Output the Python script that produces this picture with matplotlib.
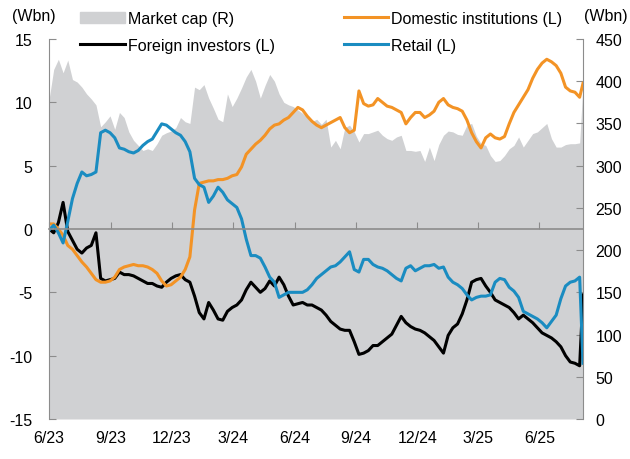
import pandas as pd
import matplotlib
matplotlib.use("Agg")
import matplotlib.pyplot as plt
import matplotlib.dates as mdates
from matplotlib.patches import Patch

plt.rcParams['font.family'] = ['Liberation Sans', 'DejaVu Sans']
plt.rcParams['axes.unicode_minus'] = False

# weekly observations from 1 Jun 2023, last point is 5 Aug 2025
dates = list(pd.date_range('2023-06-01', periods=114, freq='7D')) + [pd.Timestamp('2025-08-05')]

foreign = [0.0, -0.3, 0.5, 2.1, -0.2, -0.9, -1.6, -1.9, -1.5, -1.3,
           -0.3, -3.9, -4.1, -4.0, -3.9, -3.4, -3.6, -3.6, -3.7, -3.9,
           -4.1, -4.3, -4.3, -4.5, -4.6, -4.2, -3.9, -3.7, -3.6, -4.0,
           -4.2, -5.3, -6.6, -7.1, -5.8, -6.4, -7.1, -7.2, -6.5, -6.2,
           -6.0, -5.6, -4.8, -4.2, -4.6, -5.0, -4.7, -4.1, -4.5, -3.8,
           -4.4, -5.3, -6.0, -5.9, -5.8, -6.0, -6.0, -6.2, -6.4, -6.8,
           -7.3, -7.6, -7.9, -8.0, -8.0, -8.9, -9.9, -9.8, -9.6, -9.2,
           -9.2, -8.9, -8.6, -8.3, -7.6, -6.9, -7.4, -7.7, -7.9, -8.0,
           -8.2, -8.5, -8.8, -9.3, -9.8, -8.4, -7.8, -7.5, -6.7, -5.6,
           -4.2, -4.0, -3.9, -4.5, -5.0, -5.6, -5.8, -6.0, -6.2, -6.6,
           -7.1, -6.8, -7.1, -7.4, -7.8, -8.2, -8.4, -8.6, -8.9, -9.3,
           -10.0, -10.5, -10.6, -10.8, -5.2]

domestic = [0.4, 0.4, 0.0, -0.5, -1.3, -1.6, -2.1, -2.6, -3.0, -3.5,
            -4.0, -4.2, -4.2, -4.1, -3.8, -3.2, -3.0, -2.9, -2.8, -2.9,
            -2.9, -3.0, -3.2, -3.5, -4.1, -4.5, -4.4, -4.1, -3.8, -3.2,
            -2.2, 1.5, 3.6, 3.7, 3.8, 3.8, 3.9, 3.9, 4.0, 4.2,
            4.3, 4.9, 5.9, 6.3, 6.7, 7.0, 7.4, 7.9, 8.2, 8.3,
            8.6, 8.8, 9.2, 9.6, 9.4, 8.9, 8.5, 8.2, 8.0, 8.2,
            8.4, 8.6, 8.8, 8.0, 7.6, 7.8, 10.9, 9.9, 9.7, 9.8,
            10.3, 10.0, 9.7, 9.6, 9.4, 9.2, 8.3, 8.8, 9.2, 9.2,
            8.8, 9.0, 9.3, 10.0, 10.3, 9.8, 9.6, 9.5, 9.3, 8.6,
            7.6, 6.9, 6.4, 7.2, 7.5, 7.2, 7.1, 7.3, 8.3, 9.2,
            9.8, 10.4, 11.0, 11.9, 12.6, 13.1, 13.4, 13.2, 12.9, 12.3,
            11.2, 10.9, 10.8, 10.4, 11.5]

retail = [-0.1, 0.3, -0.3, -1.1, 0.6, 2.4, 3.6, 4.5, 4.2, 4.3,
          4.5, 7.6, 7.8, 7.6, 7.2, 6.4, 6.3, 6.1, 6.0, 6.2,
          6.6, 6.9, 7.1, 7.7, 8.3, 8.2, 7.9, 7.6, 7.4, 6.9,
          6.1, 4.0, 3.5, 3.3, 2.1, 2.6, 3.3, 2.9, 2.3, 2.0,
          1.7, 0.8, -0.8, -2.1, -2.1, -2.3, -3.0, -3.8, -4.2, -5.4,
          -5.2, -5.0, -5.0, -5.0, -5.0, -4.8, -4.4, -3.9, -3.6, -3.3,
          -3.0, -2.9, -2.6, -2.2, -1.8, -3.2, -3.4, -2.4, -2.4, -2.8,
          -3.0, -3.1, -3.3, -3.6, -3.9, -4.1, -3.1, -2.9, -3.3, -3.1,
          -2.9, -2.9, -2.8, -3.1, -3.0, -3.8, -4.2, -4.4, -4.7, -5.2,
          -5.6, -5.4, -5.3, -5.3, -5.2, -4.2, -3.9, -4.0, -4.6, -4.9,
          -5.4, -6.5, -6.7, -6.9, -7.1, -7.4, -7.8, -7.3, -6.8, -5.5,
          -4.5, -4.2, -4.1, -3.8, -10.6]

market_cap = [378, 414, 426, 410, 425, 402, 399, 393, 385, 379,
              372, 346, 352, 359, 343, 363, 357, 340, 330, 324,
              318, 320, 318, 326, 336, 339, 341, 345, 357, 352,
              350, 393, 390, 396, 380, 368, 355, 352, 385, 370,
              380, 392, 405, 414, 400, 380, 395, 408, 400, 385,
              375, 372, 370, 366, 362, 357, 352, 355, 349, 355,
              322, 330, 320, 345, 348, 340, 328, 338, 338, 340,
              342, 336, 332, 330, 334, 336, 318, 318, 317, 318,
              305, 322, 306, 325, 336, 341, 340, 337, 336, 348,
              350, 335, 326, 324, 312, 305, 306, 312, 320, 324,
              334, 322, 330, 338, 340, 345, 350, 332, 322, 322,
              325, 326, 326, 327, 397]

tick_dates = pd.to_datetime(['2023-06-01', '2023-09-01', '2023-12-01', '2024-03-01', '2024-06-01',
                             '2024-09-01', '2024-12-01', '2025-03-01', '2025-06-01'])
tick_labels = ['6/23', '9/23', '12/23', '3/24', '6/24', '9/24', '12/24', '3/25', '6/25']

grey = '#d0d1d3'
spine_c = '#8c8c8c'
fs = 11.5

fig = plt.figure(figsize=(6.3, 4.6), dpi=100)
ax = fig.add_axes([49 / 630, 40 / 460, 534 / 630, 380 / 460])
ax2 = ax.twinx()

ax2.fill_between(dates, 0, market_cap, color=grey, lw=0)
ax.set_zorder(ax2.get_zorder() + 1)
ax.patch.set_visible(False)

l_for, = ax.plot(dates, foreign, color='black', lw=2.2)
l_dom, = ax.plot(dates, domestic, color='#f39325', lw=2.2)
l_ret, = ax.plot(dates, retail, color='#1a8cc1', lw=2.2)

ax.set_ylim(-15, 15)
ax.set_yticks(range(-15, 16, 5))
ax2.set_ylim(0, 450)
ax2.set_yticks(range(0, 451, 50))
ax.set_xlim(dates[0], dates[-1])

for s in ['top', 'right']:
    ax.spines[s].set_visible(False)
for s in ['top', 'left', 'bottom']:
    ax2.spines[s].set_visible(False)
ax.spines['left'].set_color(spine_c)
ax2.spines['right'].set_color(spine_c)
ax.spines['bottom'].set_position(('data', 0))
ax.spines['bottom'].set_color(spine_c)
ax.spines['bottom'].set_linewidth(1.2)

ax.set_xticks(tick_dates)
ax.tick_params(axis='x', direction='in', length=5, color=spine_c, labelbottom=False)
ax.tick_params(axis='y', direction='in', length=5, color=spine_c, labelsize=fs, pad=12)
ax2.tick_params(axis='y', direction='in', length=5, color=spine_c, labelsize=fs, pad=9)

sec = ax.secondary_xaxis('bottom')
sec.set_xticks(mdates.date2num(tick_dates), tick_labels)
sec.tick_params(length=0, pad=8, labelsize=fs)
sec.spines['bottom'].set_visible(False)

fig.text(12 / 630, 1 - 16 / 460, '(Wbn)', fontsize=fs, va='center')
fig.text(628 / 630, 1 - 16 / 460, '(Wbn)', fontsize=fs, va='center', ha='right')

handles = [Patch(color=grey), l_for, l_dom, l_ret]
labels = ['Market cap (R)', 'Foreign investors (L)', 'Domestic institutions (L)', 'Retail (L)']
fig.legend(handles, labels, ncol=2, loc='upper left', bbox_to_anchor=(72 / 630, 1 - 4 / 460),
           frameon=False, fontsize=fs, handlelength=2.8, handletextpad=0.2,
           columnspacing=4.3, labelspacing=0.75, borderpad=0)

fig.savefig('out.png', dpi=100)
